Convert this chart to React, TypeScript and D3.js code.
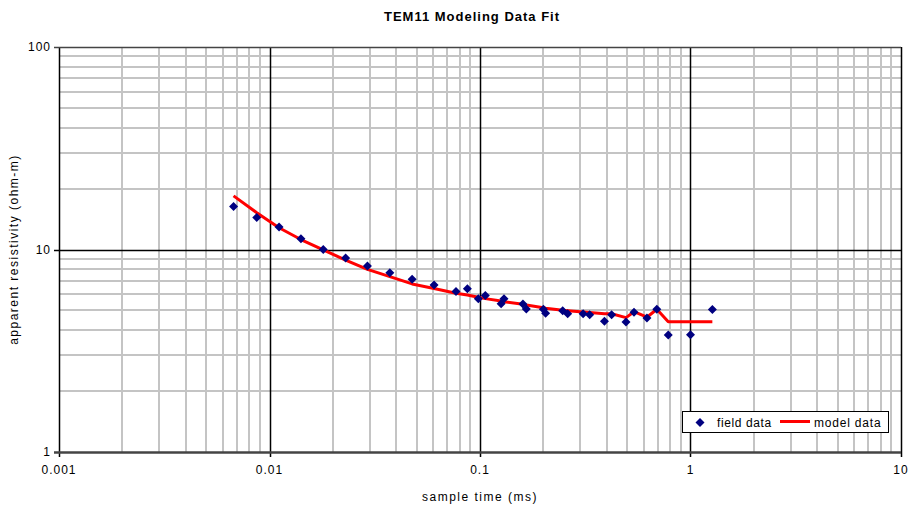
import React, { useEffect, useRef } from "react";
import * as d3 from "d3";

// sample times (ms) and measured apparent resistivity (ohm-m)
const sampleTimes = [
  0.00675, 0.0087, 0.0111, 0.0141, 0.018, 0.023, 0.0292, 0.0373, 0.0476, 0.0605,
  0.0769, 0.0871, 0.0982, 0.106, 0.126, 0.13, 0.16, 0.166, 0.2, 0.205, 0.247,
  0.261, 0.309, 0.332, 0.39, 0.422, 0.494, 0.539, 0.621, 0.692, 0.784, 1.0, 1.27
];
const fieldData = [
  16.3, 14.4, 12.9, 11.3, 10.0, 9.08, 8.3, 7.67, 7.14, 6.68, 6.2, 6.4, 5.72, 5.92,
  5.4, 5.72, 5.38, 5.08, 5.07, 4.84, 4.99, 4.82, 4.82, 4.76, 4.42, 4.76, 4.38,
  4.9, 4.59, 5.07, 3.78, 3.79, 5.05
];
const modelData = [
  18.4, 15.2, 12.8, 11.2, 9.95, 8.87, 7.98, 7.34, 6.76, 6.42, 6.08, 5.96, 5.81,
  5.72, 5.57, 5.52, 5.36, 5.32, 5.16, 5.13, 5.01, 4.99, 4.91, 4.88, 4.82, 4.82,
  4.61, 4.93, 4.63, 5.07, 4.4, 4.4, 4.4
];
const xTicks = [0.001, 0.01, 0.1, 1, 10];
const yTicks = [1, 10, 100];

const W = 908;
const H = 508;
const m = { left: 59, right: 7, top: 47, bottom: 56 };
const font = "'Liberation Sans', Arial, sans-serif";
const diamond = "M0,-4.5L4.5,0L0,4.5L-4.5,0Z";

export default function App() {
  const ref = useRef<SVGSVGElement>(null);

  useEffect(() => {
    const svg = d3.select(ref.current);
    svg.selectAll("*").remove();

    const x = d3.scaleLog().domain([0.001, 10]).range([m.left, W - m.right]);
    const y = d3.scaleLog().domain([1, 100]).range([H - m.bottom, m.top]);

    const g = svg.append("g");

    // minor grid
    const minorX: number[] = [];
    const minorY: number[] = [];
    for (const d of [0.001, 0.01, 0.1, 1]) for (let k = 2; k <= 9; k++) minorX.push(d * k);
    for (const d of [1, 10]) for (let k = 2; k <= 9; k++) minorY.push(d * k);

    g.selectAll(".mx").data(minorX).enter().append("line")
      .attr("x1", d => Math.round(x(d))).attr("x2", d => Math.round(x(d)))
      .attr("y1", m.top).attr("y2", H - m.bottom)
      .attr("stroke", "#c4c4c4").attr("stroke-width", 2);
    g.selectAll(".my").data(minorY).enter().append("line")
      .attr("y1", d => Math.round(y(d))).attr("y2", d => Math.round(y(d)))
      .attr("x1", m.left).attr("x2", W - m.right)
      .attr("stroke", "#c4c4c4").attr("stroke-width", 2);

    // major grid
    g.selectAll(".Mx").data(xTicks).enter().append("line")
      .attr("x1", d => Math.round(x(d)) + 0.5).attr("x2", d => Math.round(x(d)) + 0.5)
      .attr("y1", m.top).attr("y2", H - m.bottom + 5)
      .attr("stroke", "#000").attr("stroke-width", 1.5);
    g.selectAll(".My").data(yTicks).enter().append("line")
      .attr("y1", d => Math.round(y(d)) + 0.5).attr("y2", d => Math.round(y(d)) + 0.5)
      .attr("x1", m.left - 5).attr("x2", W - m.right)
      .attr("stroke", d => (d === 10 ? "#000" : "#444"))
      .attr("stroke-width", d => (d === 1 ? 2.5 : 1.5));

    // tick labels
    g.selectAll(".xl").data(xTicks).enter().append("text")
      .attr("x", d => x(d)).attr("y", H - m.bottom + 22)
      .attr("text-anchor", "middle").attr("font-family", font).attr("font-size", 12)
      .attr("letter-spacing", 1)
      .text(d => String(d));
    g.selectAll(".yl").data(yTicks).enter().append("text")
      .attr("x", m.left - 8).attr("y", d => y(d) + 4)
      .attr("text-anchor", "end").attr("font-family", font).attr("font-size", 12)
      .attr("letter-spacing", 1)
      .text(d => String(d));

    // model line
    const line = d3.line<number>()
      .x((_, i) => x(sampleTimes[i]))
      .y(d => y(d));
    g.append("path").datum(modelData)
      .attr("d", line)
      .attr("fill", "none").attr("stroke", "#ff0000").attr("stroke-width", 3)
      .attr("stroke-linejoin", "round");

    // field data markers
    g.selectAll(".pt").data(fieldData).enter().append("path")
      .attr("d", diamond)
      .attr("transform", (d, i) => `translate(${x(sampleTimes[i])},${y(d)})`)
      .attr("fill", "#000080");

    // legend
    const lg = g.append("g").attr("transform", "translate(682,411)");
    lg.append("rect").attr("x", 0.5).attr("y", 0.5).attr("width", 206).attr("height", 21)
      .attr("fill", "#fff").attr("stroke", "#000").attr("stroke-width", 1);
    lg.append("path").attr("d", diamond).attr("transform", "translate(18,11.5)").attr("fill", "#000080");
    lg.append("text").attr("x", 35).attr("y", 15.5).attr("font-family", font).attr("font-size", 12)
      .attr("letter-spacing", 0.6).text("field data");
    lg.append("line").attr("x1", 98).attr("x2", 128).attr("y1", 10.5).attr("y2", 10.5)
      .attr("stroke", "#ff0000").attr("stroke-width", 3);
    lg.append("text").attr("x", 132).attr("y", 15.5).attr("font-family", font).attr("font-size", 12)
      .attr("letter-spacing", 0.8).text("model data");

    // titles
    g.append("text").attr("x", 472).attr("y", 21).attr("text-anchor", "middle")
      .attr("font-family", font).attr("font-size", 13).attr("font-weight", "bold")
      .attr("letter-spacing", 1)
      .text("TEM11 Modeling Data Fit");
    g.append("text").attr("x", 480).attr("y", 501).attr("text-anchor", "middle")
      .attr("font-family", font).attr("font-size", 12).attr("letter-spacing", 1.5)
      .text("sample time (ms)");
    g.append("text")
      .attr("transform", `translate(18,${(m.top + H - m.bottom) / 2}) rotate(-90)`)
      .attr("text-anchor", "middle").attr("font-family", font).attr("font-size", 12)
      .attr("letter-spacing", 1.5)
      .text("apparent resistivity (ohm-m)");
  }, []);

  return (
    <svg ref={ref} width={W} height={H} style={{ display: "block", position: "absolute", left: 0, top: 0 }} />
  );
}
